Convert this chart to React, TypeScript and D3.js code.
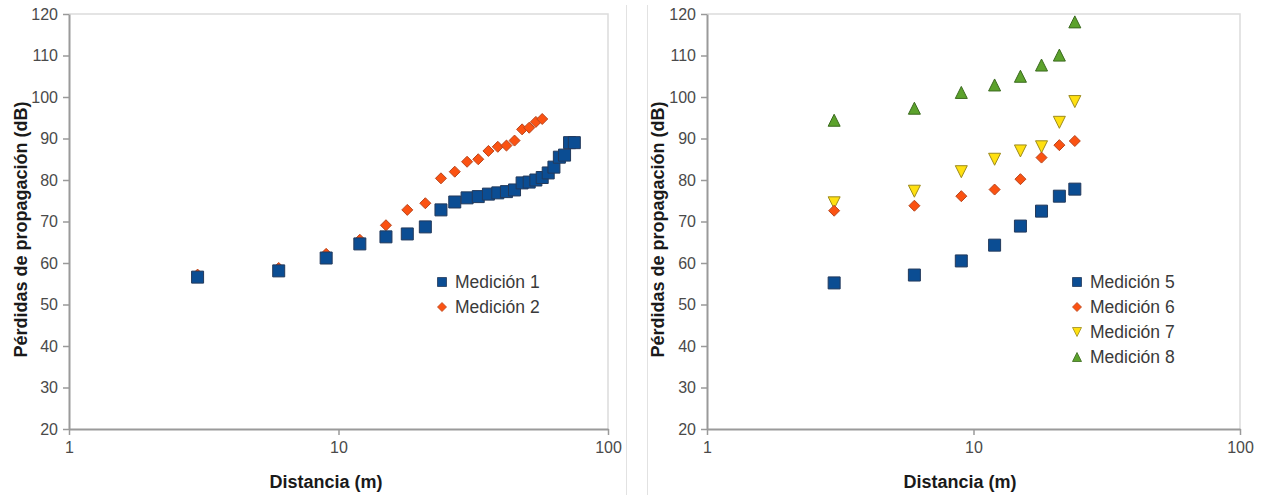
import React, { useEffect, useRef } from "react";
import * as d3 from "d3";

// distances (m)
const distLeft = [3, 6, 9, 12, 15, 18, 21, 24, 27, 30, 33, 36, 39, 42, 45, 48, 51, 54, 57, 60, 63, 66, 69, 72, 75];
const distRight = [3, 6, 9, 12, 15, 18, 21, 24];

// losses (dB)
const medicion1 = [56.6, 58.1, 61.2, 64.6, 66.3, 67.0, 68.7, 72.8, 74.7, 75.7, 76.0, 76.6, 76.9, 77.2, 77.6, 79.3, 79.5, 80.0, 80.6, 81.7, 83.1, 85.5, 86.0, 89.0, 89.0];
const medicion2 = [57.2, 58.8, 62.2, 65.6, 69.1, 72.8, 74.4, 80.4, 82.0, 84.4, 85.0, 87.0, 88.0, 88.3, 89.5, 92.2, 92.6, 94.0, 94.7];
const medicion5 = [55.2, 57.1, 60.5, 64.3, 68.9, 72.5, 76.1, 77.8];
const medicion6 = [72.6, 73.8, 76.1, 77.7, 80.2, 85.4, 88.4, 89.4];
const medicion7 = [74.5, 77.3, 82.0, 85.0, 87.0, 88.0, 93.9, 98.9];
const medicion8 = [94.4, 97.3, 101.1, 102.9, 105.0, 107.7, 110.1, 118.1];

const yTicks = [20, 30, 40, 50, 60, 70, 80, 90, 100, 110, 120];
const xTicks = [1, 10, 100];

const markers = {
  square: { fill: "#0b4d93", stroke: "#233a5c" },
  diamond: { fill: "#fb5212", stroke: "#b8461e" },
  down: { fill: "#ffe010", stroke: "#9c8a1c" },
  up: { fill: "#5ca22c", stroke: "#3b6a1e" },
};

function shape(type: string, s: number) {
  const h = s / 2;
  if (type === "square") return `M${-h},${-h}H${h}V${h}H${-h}Z`;
  if (type === "diamond") return `M0,${-h}L${h},0L0,${h}L${-h},0Z`;
  if (type === "down") return `M${-h},${-h}H${h}L0,${h}Z`;
  return `M0,${-h}L${h},${h}H${-h}Z`;
}

const FONT = "'Liberation Sans', Arial, sans-serif";

function drawPanel(svg, opts) {
  const { x0, x1, y0, y1, series, legendX, legendY, titleX, xTitleX } = opts;
  const x = d3.scaleLog().domain([1, 100]).range([x0, x1]);
  const y = d3.scaleLinear().domain([20, 120]).range([y1, y0]);
  const g = svg.append("g");

  // light frame top/right
  g.append("path")
    .attr("d", `M${x0},${y0}H${x1}V${y1}`)
    .attr("fill", "none")
    .attr("stroke", "#dcdcdc")
    .attr("stroke-width", 1.5);

  const yAxis = g.append("g").attr("transform", `translate(${x0},0)`)
    .call(d3.axisLeft(y).tickValues(yTicks).tickSizeInner(6).tickSizeOuter(0).tickPadding(5));
  const xAxis = g.append("g").attr("transform", `translate(0,${y1})`)
    .call(d3.axisBottom(x).tickValues(xTicks).tickFormat(d3.format("d")).tickSizeInner(6).tickSizeOuter(0).tickPadding(7));
  [yAxis, xAxis].forEach(a => {
    a.select(".domain").attr("stroke", "#9a9a9a").attr("stroke-width", 2);
    a.selectAll(".tick line").attr("stroke", "#9a9a9a").attr("stroke-width", 1.5);
    a.selectAll(".tick text").attr("fill", "#4a4a4a").style("font-family", FONT).style("font-size", "16px");
  });

  // markers, last series drawn first
  series.slice().reverse().forEach(s => {
    const st = markers[s.type];
    g.append("g").selectAll("path").data(s.values).join("path")
      .attr("d", shape(s.type, s.size))
      .attr("transform", (v, i) => `translate(${x(s.dist[i])},${y(v)})`)
      .attr("fill", st.fill)
      .attr("stroke", st.stroke)
      .attr("stroke-width", 1);
  });

  // legend
  const leg = g.append("g");
  series.forEach((s, i) => {
    const st = markers[s.type];
    const ly = legendY + i * 25;
    leg.append("path")
      .attr("d", shape(s.type, s.type === "square" ? 9 : 9))
      .attr("transform", `translate(${legendX},${ly})`)
      .attr("fill", st.fill).attr("stroke", st.stroke).attr("stroke-width", 0.8);
    leg.append("text")
      .attr("x", legendX + 13).attr("y", ly + 6)
      .attr("fill", "#3a3a3a")
      .style("font-family", FONT).style("font-size", "17.5px")
      .text(s.name);
  });

  g.append("text")
    .attr("transform", `translate(${titleX},${(y0 + y1) / 2 + 8}) rotate(-90)`)
    .attr("text-anchor", "middle")
    .attr("fill", "#1a1a1a")
    .style("font-family", FONT).style("font-size", "18px").style("font-weight", "bold")
    .text("Pérdidas de propagación (dB)");
  g.append("text")
    .attr("x", xTitleX).attr("y", 488)
    .attr("text-anchor", "middle")
    .attr("fill", "#1a1a1a")
    .style("font-family", FONT).style("font-size", "18px").style("font-weight", "bold")
    .text("Distancia (m)");
}

export default function App() {
  const ref = useRef(null);
  useEffect(() => {
    const svg = d3.select(ref.current);
    svg.selectAll("*").remove();

    svg.append("line").attr("x1", 626.5).attr("x2", 626.5).attr("y1", 5).attr("y2", 495).attr("stroke", "#e2e2e2");
    svg.append("line").attr("x1", 647.5).attr("x2", 647.5).attr("y1", 5).attr("y2", 495).attr("stroke", "#e2e2e2");

    drawPanel(svg, {
      x0: 69, x1: 608, y0: 14, y1: 429,
      legendX: 442, legendY: 282, titleX: 27, xTitleX: 326,
      series: [
        { name: "Medición 1", type: "square", size: 12, dist: distLeft, values: medicion1 },
        { name: "Medición 2", type: "diamond", size: 11, dist: distLeft, values: medicion2 },
      ],
    });
    drawPanel(svg, {
      x0: 707, x1: 1240, y0: 14, y1: 429,
      legendX: 1077, legendY: 282, titleX: 664, xTitleX: 960,
      series: [
        { name: "Medición 5", type: "square", size: 12, dist: distRight, values: medicion5 },
        { name: "Medición 6", type: "diamond", size: 11, dist: distRight, values: medicion6 },
        { name: "Medición 7", type: "down", size: 12, dist: distRight, values: medicion7 },
        { name: "Medición 8", type: "up", size: 12, dist: distRight, values: medicion8 },
      ],
    });
  }, []);
  return (
    <svg ref={ref} width={1263} height={495} style={{ position: "absolute", left: 0, top: 0, background: "#fff" }} />
  );
}
